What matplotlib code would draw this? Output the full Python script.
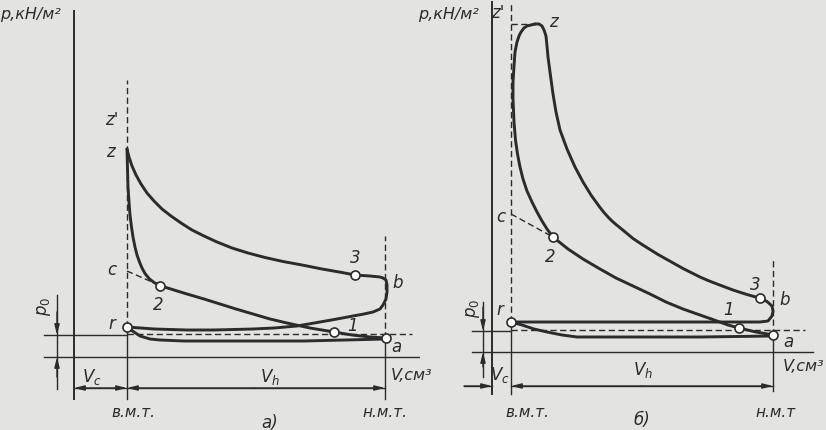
import matplotlib
matplotlib.use('Agg')
import matplotlib.pyplot as plt

# panel a) -- carburettor engine, (V, p)
a_vmt, a_nmt, a_p0 = 53, 311, 22
a_comp_V = [312, 296, 278, 260, 236, 213, 196, 179, 162, 146, 130, 113, 100, 92, 86, 80, 75, 71,
            68, 65.5, 63, 61, 59, 57.5, 56, 55, 54, 53.5, 53]
a_comp_p = [19, 20, 22, 25, 29, 34, 38, 43, 48, 53, 58, 63, 67, 69.5, 71.5, 74.5, 78.5, 83.5,
            89, 95, 102, 110, 120, 130, 142, 155, 170, 188, 208]
a_exp_V = [53, 55, 58, 62, 67, 73, 80, 88, 97, 107, 118, 130, 143, 158, 174, 191, 209, 228, 248,
           268, 281, 296, 306, 309, 312, 313, 313, 312, 309, 306, 299,
           290, 279, 263, 246, 223, 200, 179, 140, 113, 80, 53]
a_exp_p = [208, 200, 191, 182, 173, 164, 156, 148, 141, 134, 127, 121, 115, 109, 104, 99.5, 95.5, 92, 88,
           84.5, 82, 81, 80, 79, 77, 72, 65, 58, 52, 48, 45,
           43, 41, 38, 35, 31, 29, 28, 27, 27, 28, 30]
a_in_V = [53, 60, 66, 76, 86, 110, 150, 230, 312]
a_in_p = [30, 25, 21, 18, 17, 16, 16, 16, 18]
a_pts_V = [53, 86, 281, 260, 312]     # r, 2, 3, 1, a
a_pts_p = [30, 71.5, 82, 25, 19]
a_c = (53, 86)

# panel b) -- diesel
b_vmt, b_nmt, b_p0 = 19, 281, 21
b_comp_V = [281, 264, 247, 236, 225, 208, 191, 174, 158, 141, 124, 108, 91, 76, 61, 55, 50, 45,
            40, 35, 31, 28, 25.5, 23.5, 22, 21, 21, 22, 23, 25, 27, 29, 32, 35, 39, 43]
b_comp_p = [17, 20, 24, 27, 31, 37, 43, 50, 58, 66, 74, 83, 93, 103, 115, 123, 131, 140,
            150, 161, 173, 185, 198, 212, 230, 253, 270, 286, 300, 310, 316, 320, 324, 326, 327, 328]
b_exp_V = [43, 47, 50, 52, 54, 55, 56, 58, 61, 64, 68, 75, 83, 91, 99, 104, 108, 112, 116, 120, 124,
           132, 141, 150, 158, 166, 175, 183, 191, 200, 208, 216, 225, 233, 241, 248, 255, 262, 268,
           275, 280, 281, 280, 276, 268, 261, 200, 120, 60, 19]
b_exp_p = [328, 328, 326, 322, 316, 306, 295, 280, 258, 240, 222, 203, 185, 170, 157, 150, 144.5, 139.5,
           135, 131, 127.5, 121, 113.5, 107.5, 102.5, 97.5, 92.5, 88, 83.5, 79, 75, 71.5, 68, 65, 62,
           59.7, 57.5, 55.5, 54, 50.5, 46, 41, 36, 31, 30, 30, 30, 30, 30, 30]
b_in_V = [19, 30, 42, 55, 70, 85, 120, 208, 281]
b_in_p = [30, 27, 23, 20, 17, 15, 15, 15, 16]
b_pts_V = [19, 61, 268, 247, 281]
b_pts_p = [30, 115, 54, 24, 17]
b_c = (19, 138)

ink = '#2b2b2b'
bg = '#e3e3df'
thick = 2.1
thin = 1.0
dash = (0, (4.5, 2.5))
fs = 12

plt.rcParams['font.family'] = ['DejaVu Sans']
plt.rcParams['mathtext.fontset'] = 'dejavusans'

fig = plt.figure(figsize=(8.26, 4.31), dpi=100, facecolor=bg)
W, H = 826, 431


def panel(left, width, ox, oy):
    ax = fig.add_axes([left / W, 0, width / W, 1])
    ax.set_xlim(-ox, width - ox)
    ax.set_ylim(oy - H, oy)
    ax.axis('off')
    return ax


def txt(ax, x, y, s, **kw):
    kw.setdefault('fontsize', fs)
    ax.text(x, y, s, color=ink, style='italic', ha='center', va='center', **kw)


def arrow(ax, x0, y0, x1, y1):
    ax.annotate('', xy=(x1, y1), xytext=(x0, y0),
                arrowprops=dict(arrowstyle='-|>,head_length=0.6,head_width=0.15',
                                color=ink, lw=thin, shrinkA=0, shrinkB=0))


def draw(ax, vmt, nmt, p0, comp, exp, inl, pts, c, ptop, vtop, nmt_top, xr, yb):
    # axes and reference lines
    ax.plot([0, 0], [-42, ptop], color=ink, lw=1.4)
    ax.plot([xr[0], xr[1]], [0, 0], color=ink, lw=thin)
    ax.plot([xr[0], vmt], [p0, p0], color=ink, lw=thin)
    ax.plot([vmt, xr[1] - 8], [p0 + 1, p0 + 1], color=ink, lw=thin, ls=dash)
    ax.plot([vmt, vmt], [pts[1][0], vtop], color=ink, lw=thin, ls=dash)
    ax.plot([vmt, vmt], [-42, pts[1][0]], color=ink, lw=thin)
    ax.plot([nmt, nmt], [pts[1][4], nmt_top], color=ink, lw=thin, ls=dash)
    ax.plot([nmt, nmt], [yb, pts[1][4]], color=ink, lw=thin)
    # dashed c - 2 line
    ax.plot([c[0], pts[0][1]], [c[1], pts[1][1]], color=ink, lw=thin, ls=dash)
    # cycle lines
    for V, p in (comp, exp, inl):
        ax.plot(V, p, color=ink, lw=thick, solid_joinstyle='round', solid_capstyle='round')
    ax.plot(pts[0], pts[1], 'o', ms=6.5, mfc='white', mec=ink, mew=1.2, ls='none', zorder=5)


# ---------------- a) ----------------
ax = panel(0, 420, 74, 358)
draw(ax, a_vmt, a_nmt, a_p0, (a_comp_V, a_comp_p), (a_exp_V, a_exp_p), (a_in_V, a_in_p),
     (a_pts_V, a_pts_p), a_c, 346, 277, 121, (-30, 346), -42)
# p0 dimension
ax.plot([-17, -17], [62, -32], color=ink, lw=thin)
arrow(ax, -17, 45, -17, a_p0)
arrow(ax, -17, -20, -17, 0)
# Vc, Vh dimension
yd = -31
ax.plot([0, a_nmt], [yd, yd], color=ink, lw=thin)
arrow(ax, 26, yd, 0, yd)
arrow(ax, 26, yd, a_vmt, yd)
arrow(ax, 180, yd, a_vmt, yd)
arrow(ax, 180, yd, a_nmt, yd)
txt(ax, -44, 343, 'p,кН/м²', fontsize=11.5)
txt(ax, -30, 52, '$p_0$', rotation=90)
txt(ax, 38, 238, "z'")
txt(ax, 36, 206, 'z')
txt(ax, 38, 88, 'c')
txt(ax, 84, 53, '2')
txt(ax, 38, 34, 'r')
txt(ax, 281, 100, '3')
txt(ax, 324, 75, 'b')
txt(ax, 278, 32, '1')
txt(ax, 322, 11, 'a')
txt(ax, 18, -19, '$V_c$')
txt(ax, 196, -19, '$V_h$')
ax.text(317, -18, 'V,см³', color=ink, style='italic', fontsize=11.5, ha='left', va='center')
txt(ax, 59, -55, 'в.м.т.', fontsize=11)
txt(ax, 311, -55, 'н.м.т.', fontsize=11)
txt(ax, 196, -65, 'а)')

# ---------------- b) ----------------
ax = panel(420, 406, 72, 353)
draw(ax, b_vmt, b_nmt, b_p0, (b_comp_V, b_comp_p), (b_exp_V, b_exp_p), (b_in_V, b_in_p),
     (b_pts_V, b_pts_p), b_c, 350, 348, 93, (-20, 321), -39)
ax.plot([b_vmt, 43], [328, 328], color=ink, lw=thin, ls=dash)
ax.plot([-9, -9], [50, -25], color=ink, lw=thin)
arrow(ax, -9, 45, -9, b_p0)
arrow(ax, -9, -15, -9, 0)
yd = -34
ax.plot([-28, 0], [yd, yd], color=ink, lw=thin)
arrow(ax, -28, yd, 0, yd)
ax.plot([b_vmt, b_nmt], [yd, yd], color=ink, lw=thin)
arrow(ax, 150, yd, b_vmt, yd)
arrow(ax, 150, yd, b_nmt, yd)
txt(ax, -44, 338, 'p,кН/м²', fontsize=11.5)
txt(ax, -19, 45, '$p_0$', rotation=90)
txt(ax, 6, 340, "z'")
txt(ax, 61, 331, 'z')
txt(ax, 9, 136, 'c')
txt(ax, 58, 96, '2')
txt(ax, 8, 43, 'r')
txt(ax, 263, 68, '3')
txt(ax, 293, 53, 'b')
txt(ax, 236, 43, '1')
txt(ax, 296, 11, 'a')
txt(ax, 8, -22, '$V_c$')
txt(ax, 151, -17, '$V_h$')
txt(ax, 311, -14, 'V,см³', fontsize=11.5)
txt(ax, 35, -60, 'в.м.т.', fontsize=11)
txt(ax, 283, -60, 'н.м.т', fontsize=11)
txt(ax, 150, -67, 'б)')

fig.savefig('out.png', dpi=100, facecolor=bg)
